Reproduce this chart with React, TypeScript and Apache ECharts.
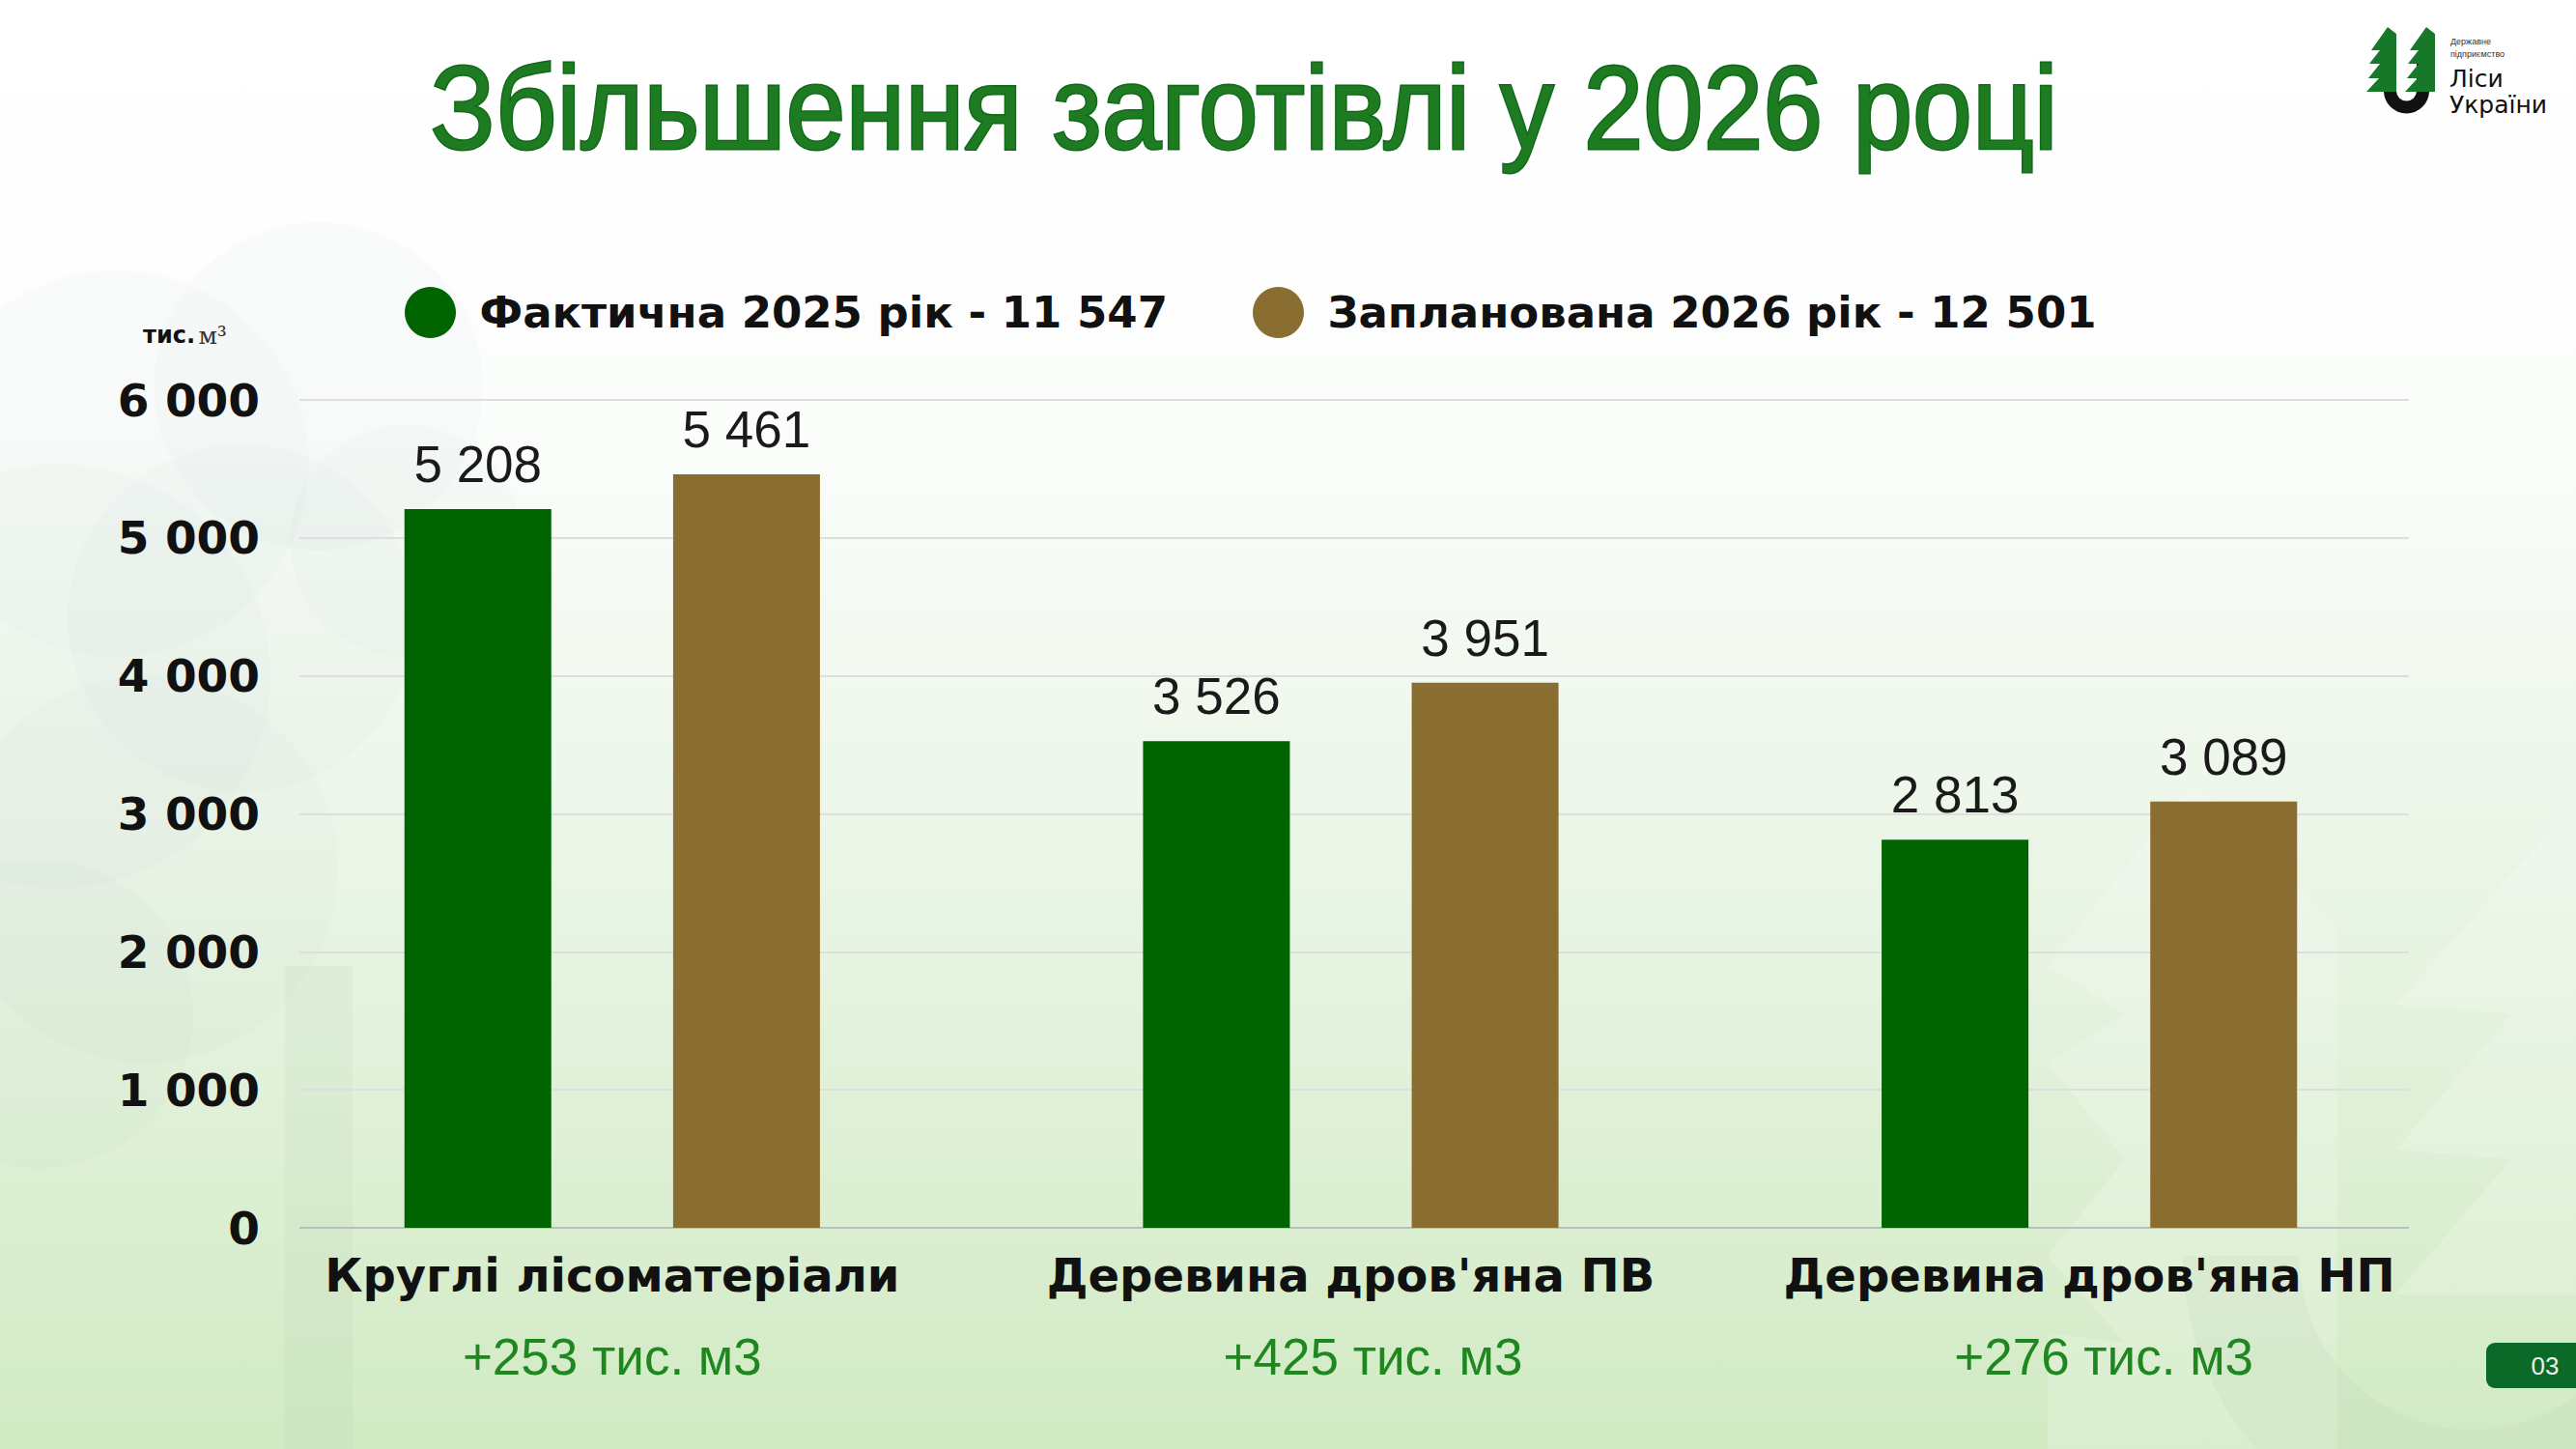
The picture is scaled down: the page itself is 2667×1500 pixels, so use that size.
import React, { useEffect, useRef } from 'react';
import * as echarts from 'echarts';

const categories = ['Круглі лісоматеріали', "Деревина дров'яна ПВ", "Деревина дров'яна НП"];
const actual2025 = [5208, 3526, 2813];
const planned2026 = [5461, 3951, 3089];
const increase = [253, 425, 276];
const seriesNames = ['Фактична 2025 рік', 'Запланована 2026 рік'];
const yMin = 0;
const yMax = 6000;
const yStep = 1000;
const titleText = 'Збільшення заготівлі у 2026 році';
const unitBold = 'тис.';
const unitSerif = 'м³';
const increaseUnit = 'тис. м3';
const pageNo = '03';

const GREEN = '#006400';
const BROWN = '#8a6d30';
const WIDE = "'DejaVu Sans', 'Open Sans', sans-serif";
const ARIAL = "'Liberation Sans', Arial, sans-serif";

const fmt = (n: number) => String(n).replace(/\B(?=(\d{3})+(?!\d))/g, ' ');
const sum = (a: number[]) => a.reduce((s, v) => s + v, 0);

function tree(x0: number) {
  const p = [
    [14, 0], [23, 7], [23, 67], [-8, 67], [5, 53], [-6, 53], [6, 38], [-5, 38], [6, 24], [-3, 24],
  ];
  return p.map(([x, y]) => [x0 + x, 28 + y]);
}

export default function App() {
  const ref = useRef<HTMLDivElement>(null);
  useEffect(() => {
    document.body.style.margin = '0';
    const chart = echarts.init(ref.current!, undefined, { renderer: 'svg' });
    const totals = [sum(actual2025), sum(planned2026)];
    const splitColors = ['#bdbdbd', '#dedede', '#dedede', '#dedede', '#dedede', '#dedede', '#dedede'];
    const labelStyle = {
      show: true, position: 'top', distance: 20,
      formatter: (p: any) => fmt(p.value),
      fontFamily: ARIAL, fontSize: 53, color: '#1a1a1a',
    };
    const blobs = [
      [120, 480, 200], [330, 400, 170], [60, 700, 220], [250, 640, 180], [150, 900, 200], [420, 560, 120], [40, 1050, 160],
    ];
    const option: any = {
      animation: false,
      backgroundColor: new echarts.graphic.LinearGradient(0, 0, 0, 1, [
        { offset: 0, color: '#ffffff' },
        { offset: 0.3, color: '#fbfdfb' },
        { offset: 0.6, color: '#eaf5e6' },
        { offset: 1, color: '#d1eac3' },
      ]),
      graphic: [
        ...blobs.map(([cx, cy, r]) => ({ type: 'circle', z: -10, shape: { cx, cy, r }, style: { fill: 'rgba(185,200,190,0.05)' } })),
        { type: 'rect', z: -10, shape: { x: 295, y: 1000, width: 70, height: 500 }, style: { fill: 'rgba(180,205,180,0.15)' } },
        { type: 'polygon', z: -10, shape: { points: [[2270, 810], [2420, 960], [2420, 1500], [2120, 1500], [2120, 1380], [2200, 1390], [2120, 1300], [2200, 1200], [2120, 1100], [2200, 1050], [2120, 1000]] }, style: { fill: 'rgba(255,255,255,0.2)' } },
        { type: 'polygon', z: -10, shape: { points: [[2667, 830], [2480, 1040], [2600, 1050], [2480, 1190], [2600, 1200], [2480, 1340], [2667, 1340]] }, style: { fill: 'rgba(255,255,255,0.2)' } },
        { type: 'sector', z: -10, shape: { cx: 2560, cy: 1300, r: 300, r0: 180, startAngle: 0, endAngle: Math.PI }, style: { fill: 'rgba(190,215,185,0.22)' } },
        {
          type: 'text', x: 1288, y: 112, scaleX: 0.905,
          style: {
            text: titleText, x: 0, y: 0, align: 'center', verticalAlign: 'middle',
            font: `123px ${ARIAL}`, fill: '#1e7b22', stroke: '#0f6a18', lineWidth: 3,
          },
        },
        {
          type: 'text', x: 148, y: 347,
          style: {
            text: `{a|${unitBold}} {b|${unitSerif}}`, verticalAlign: 'middle',
            rich: {
              a: { fontFamily: WIDE, fontWeight: 'bold', fontSize: 24, fill: '#111' },
              b: { fontFamily: "'DejaVu Serif', 'Liberation Serif', serif", fontSize: 25, fill: '#333' },
            },
          },
        },
        { type: 'rect', shape: { x: 2468, y: 66, width: 13, height: 30 }, style: { fill: '#111' } },
        { type: 'rect', shape: { x: 2502, y: 66, width: 13, height: 30 }, style: { fill: '#111' } },
        { type: 'sector', shape: { cx: 2491.5, cy: 94, r: 23.5, r0: 10.5, startAngle: 0, endAngle: Math.PI }, style: { fill: '#111' } },
        { type: 'polygon', shape: { points: tree(2458) }, style: { fill: '#17782a' } },
        { type: 'polygon', shape: { points: tree(2498) }, style: { fill: '#17782a' } },
        { type: 'text', x: 2537, y: 43, style: { text: 'Державне', font: `9px ${ARIAL}`, fill: '#333', verticalAlign: 'middle' } },
        { type: 'text', x: 2537, y: 56, style: { text: 'підприємство', font: `9px ${ARIAL}`, fill: '#333', verticalAlign: 'middle' } },
        { type: 'text', x: 2536, y: 81, style: { text: 'Ліси', font: `25px ${WIDE}`, fill: '#111', verticalAlign: 'middle' } },
        { type: 'text', x: 2536, y: 108, style: { text: 'України', font: `25px ${WIDE}`, fill: '#111', verticalAlign: 'middle' } },
        { type: 'rect', shape: { x: 2574, y: 1390, width: 110, height: 47, r: 9 }, style: { fill: '#0b6a28' } },
        { type: 'text', x: 2635, y: 1414, style: { text: pageNo, font: `26px ${ARIAL}`, fill: '#e6f3e6', align: 'center', verticalAlign: 'middle' } },
      ],
      legend: {
        left: 414, top: 292,
        itemWidth: 60, itemHeight: 53, itemGap: 88,
        icon: 'circle',
        data: seriesNames,
        formatter: (name: string) => `${name} - ${fmt(totals[seriesNames.indexOf(name)])}`,
        textStyle: { fontFamily: WIDE, fontWeight: 'bold', fontSize: 45, color: '#111', padding: [0, 0, 0, 16] },
      },
      grid: [
        { left: 251.5, right: 121.5, top: 414, bottom: 229 },
        { left: 310, right: 173, top: 414, bottom: 229 },
      ],
      xAxis: [
        {
          type: 'category', gridIndex: 0, data: categories,
          axisLine: { show: false }, axisTick: { show: false },
          axisLabel: {
            margin: 19, interval: 0,
            formatter: (v: string, i: number) => `{a|${v}}\n{b${i}|+${increase[i]} ${increaseUnit}}`,
            rich: {
              a: { fontFamily: WIDE, fontWeight: 'bold', fontSize: 48, color: '#111', lineHeight: 60 },
              b0: { fontFamily: ARIAL, fontSize: 53, color: '#1f871f', lineHeight: 108 },
              b1: { fontFamily: ARIAL, fontSize: 53, color: '#1f871f', lineHeight: 108, padding: [0, 0, 0, 46] },
              b2: { fontFamily: ARIAL, fontSize: 53, color: '#1f871f', lineHeight: 108, padding: [0, 0, 0, 30] },
            },
          },
        },
        { type: 'value', gridIndex: 1, min: 0, max: 1, show: false },
      ],
      yAxis: [
        { type: 'value', gridIndex: 0, min: yMin, max: yMax, interval: yStep, show: false, splitLine: { show: false } },
        {
          type: 'value', gridIndex: 1, min: yMin, max: yMax, interval: yStep,
          axisLine: { show: false }, axisTick: { show: false },
          axisLabel: {
            margin: 41, formatter: (v: number) => fmt(v),
            fontFamily: WIDE, fontWeight: 'bold', fontSize: 47, color: '#111',
          },
          splitLine: { show: true, lineStyle: { color: splitColors, width: 2 } },
        },
      ],
      series: [
        {
          name: seriesNames[0], type: 'bar', xAxisIndex: 0, yAxisIndex: 0,
          data: actual2025, barWidth: 152, barGap: '83%',
          itemStyle: { color: GREEN },
          label: labelStyle,
        },
        {
          name: seriesNames[1], type: 'bar', xAxisIndex: 0, yAxisIndex: 0,
          data: planned2026, barWidth: 152, barGap: '83%',
          itemStyle: { color: BROWN },
          label: labelStyle,
        },
      ],
    };
    chart.setOption(option);
    return () => chart.dispose();
  }, []);
  return <div ref={ref} style={{ width: 2667, height: 1500 }} />;
}
